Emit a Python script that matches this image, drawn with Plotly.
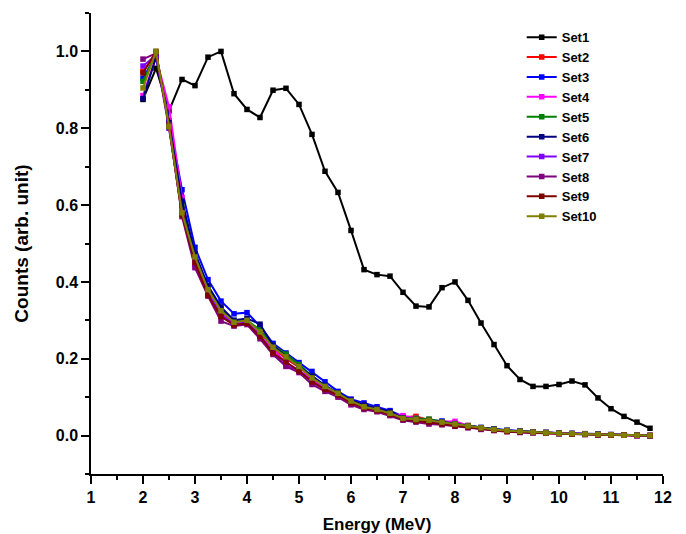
import plotly.graph_objects as go

# Energy bins (MeV)
energy = [2.0, 2.25, 2.5, 2.75, 3.0, 3.25, 3.5, 3.75, 4.0, 4.25,
          4.5, 4.75, 5.0, 5.25, 5.5, 5.75, 6.0, 6.25, 6.5, 6.75,
          7.0, 7.25, 7.5, 7.75, 8.0, 8.25, 8.5, 8.75, 9.0, 9.25,
          9.5, 9.75, 10.0, 10.25, 10.5, 10.75, 11.0, 11.25, 11.5, 11.75]

set1 = [0.875, 0.956, 0.845, 0.927, 0.911, 0.985, 1.0, 0.89, 0.849, 0.828,
        0.899, 0.904, 0.862, 0.784, 0.688, 0.633, 0.534, 0.432, 0.419, 0.415,
        0.373, 0.337, 0.335, 0.385, 0.40, 0.352, 0.293, 0.237, 0.182, 0.146,
        0.128, 0.128, 0.133, 0.142, 0.132, 0.098, 0.07, 0.05, 0.035, 0.019]

set2 = [0.948, 0.995, 0.812, 0.59, 0.46, 0.375, 0.322, 0.292, 0.298, 0.268,
        0.228, 0.2, 0.178, 0.15, 0.126, 0.108, 0.088, 0.076, 0.068, 0.06,
        0.048, 0.05, 0.04, 0.035, 0.03, 0.026, 0.02, 0.016, 0.012, 0.011,
        0.01, 0.008, 0.006, 0.005, 0.004, 0.003, 0.002, 0.001, 0.001, 0.0]

set3 = [0.93, 0.99, 0.82, 0.64, 0.49, 0.406, 0.35, 0.317, 0.32, 0.285,
        0.24, 0.215, 0.19, 0.167, 0.14, 0.115, 0.095, 0.085, 0.075, 0.065,
        0.05, 0.044, 0.04, 0.038, 0.032, 0.026, 0.021, 0.017, 0.014, 0.012,
        0.01, 0.008, 0.007, 0.006, 0.005, 0.004, 0.003, 0.002, 0.001, 0.0]

set4 = [0.885, 0.985, 0.856, 0.62, 0.44, 0.37, 0.32, 0.29, 0.3, 0.26,
        0.225, 0.19, 0.17, 0.145, 0.125, 0.105, 0.09, 0.08, 0.07, 0.058,
        0.052, 0.045, 0.042, 0.036, 0.037, 0.026, 0.02, 0.015, 0.012, 0.01,
        0.008, 0.007, 0.006, 0.005, 0.004, 0.003, 0.002, 0.001, 0.0, 0.0]

set5 = [0.922, 0.995, 0.81, 0.6, 0.47, 0.385, 0.33, 0.3, 0.3, 0.275,
        0.235, 0.212, 0.185, 0.155, 0.13, 0.11, 0.09, 0.076, 0.068, 0.058,
        0.046, 0.045, 0.043, 0.036, 0.031, 0.025, 0.02, 0.016, 0.013, 0.011,
        0.009, 0.008, 0.006, 0.005, 0.004, 0.003, 0.002, 0.001, 0.001, 0.0]

set6 = [0.877, 0.985, 0.815, 0.61, 0.475, 0.39, 0.335, 0.3, 0.305, 0.29,
        0.235, 0.205, 0.18, 0.155, 0.13, 0.11, 0.092, 0.08, 0.07, 0.062,
        0.046, 0.042, 0.04, 0.036, 0.03, 0.025, 0.021, 0.017, 0.013, 0.011,
        0.009, 0.008, 0.006, 0.005, 0.004, 0.003, 0.002, 0.001, 0.001, 0.0]

set7 = [0.962, 0.99, 0.8, 0.58, 0.445, 0.37, 0.315, 0.29, 0.295, 0.26,
        0.215, 0.182, 0.17, 0.14, 0.12, 0.104, 0.085, 0.072, 0.064, 0.054,
        0.042, 0.038, 0.034, 0.03, 0.026, 0.022, 0.018, 0.014, 0.011, 0.009,
        0.008, 0.006, 0.005, 0.004, 0.003, 0.002, 0.002, 0.001, 0.0, 0.0]

set8 = [0.98, 0.995, 0.81, 0.57, 0.437, 0.363, 0.298, 0.285, 0.289, 0.252,
        0.211, 0.18, 0.164, 0.133, 0.115, 0.1, 0.08, 0.068, 0.062, 0.052,
        0.04, 0.035, 0.03, 0.028, 0.024, 0.02, 0.016, 0.013, 0.01, 0.008,
        0.007, 0.006, 0.005, 0.004, 0.003, 0.002, 0.001, 0.001, 0.0, 0.0]

set9 = [0.944, 1.0, 0.805, 0.575, 0.45, 0.365, 0.31, 0.288, 0.292, 0.258,
        0.215, 0.192, 0.168, 0.14, 0.12, 0.105, 0.085, 0.072, 0.065, 0.055,
        0.043, 0.038, 0.034, 0.03, 0.025, 0.022, 0.018, 0.014, 0.011, 0.009,
        0.008, 0.006, 0.005, 0.004, 0.003, 0.002, 0.002, 0.001, 0.0, 0.0]

set10 = [0.905, 1.0, 0.805, 0.58, 0.465, 0.38, 0.325, 0.295, 0.3, 0.27,
         0.23, 0.205, 0.18, 0.15, 0.128, 0.11, 0.09, 0.075, 0.068, 0.058,
         0.045, 0.042, 0.04, 0.035, 0.03, 0.025, 0.02, 0.016, 0.013, 0.011,
         0.009, 0.007, 0.006, 0.005, 0.004, 0.003, 0.002, 0.001, 0.001, 0.0]

names = ["Set1", "Set2", "Set3", "Set4", "Set5",
         "Set6", "Set7", "Set8", "Set9", "Set10"]
series = [set1, set2, set3, set4, set5, set6, set7, set8, set9, set10]
colors = ["#000000", "#ff0000", "#0000ff", "#ff00ff", "#008000",
          "#000080", "#8000ff", "#800080", "#800000", "#808000"]

fig = go.Figure()
for name, vals, col in zip(names, series, colors):
    fig.add_trace(go.Scatter(
        x=energy, y=vals, name=name, mode="lines+markers",
        line=dict(color=col, width=2),
        marker=dict(symbol="square", size=5.5, color=col),
    ))

FAMILY = "Liberation Sans, Arial, sans-serif"
tick_font = dict(family=FAMILY, size=16, color="black", weight="bold")

axis_common = dict(
    showline=True, linecolor="black", linewidth=1.5,
    showgrid=False, zeroline=False, automargin=False,
    ticks="outside", ticklen=8, tickwidth=1.5, tickcolor="black",
    tickfont=tick_font, mirror=False,
)

fig.update_layout(
    width=686, height=534,
    margin=dict(l=91, r=23, t=13, b=60),
    paper_bgcolor="white", plot_bgcolor="white",
    font=dict(family=FAMILY, color="black"),
    xaxis=dict(
        range=[1, 12], dtick=1, tick0=1,
        title=dict(text="Energy (MeV)",
                   font=dict(family=FAMILY, size=17, weight="bold"),
                   standoff=14),
        minor=dict(dtick=0.5, ticks="outside", ticklen=4, tickwidth=1.5,
                   tickcolor="black"),
        **axis_common,
    ),
    yaxis=dict(
        range=[-0.1, 1.1], dtick=0.2, tick0=0, tickformat=".1f",
        title=dict(text="Counts (arb. unit)",
                   font=dict(family=FAMILY, size=19, weight="bold"),
                   standoff=22),
        minor=dict(dtick=0.1, tick0=0, ticks="outside", ticklen=4,
                   tickwidth=1.5, tickcolor="black"),
        **axis_common,
    ),
    legend=dict(
        x=0.753, y=0.98, xanchor="left", yanchor="top",
        bgcolor="rgba(0,0,0,0)", borderwidth=0,
        font=dict(family=FAMILY, size=13, weight="bold"),
        tracegroupgap=0,
    ),
    showlegend=True,
)

fig.write_html("out.html")
